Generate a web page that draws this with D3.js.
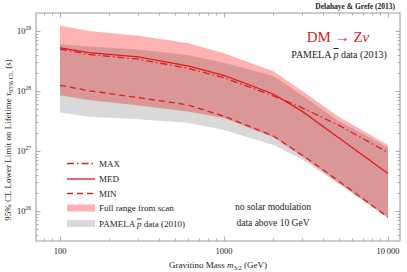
<!DOCTYPE html>
<html>
<head>
<meta charset="utf-8">
<script src="https://cdn.jsdelivr.net/npm/d3@7"></script>
<style>
  body { margin: 0; background: #fff; }
  text { font-family: "Liberation Serif", "DejaVu Serif", serif; fill: #222; }
</style>
</head>
<body>
<div id="chart"></div>
<script>
// gravitino masses (GeV) where the curves are sampled
const masses = [100, 150, 300, 600, 1000, 2000, 3000, 5000, 10000];

// log10 of lifetime limit (s)
const maxLog = [28.70, 28.61, 28.53, 28.38, 28.22, 27.92, 27.72, 27.43, 26.975];
const medLog = [28.72, 28.64, 28.57, 28.42, 28.26, 27.95, 27.66, 27.22, 26.625];
const minLog = [28.095, 28.005, 27.89, 27.77, 27.58, 27.25, 26.93, 26.50, 25.90];

// full range from scan (band)
const scanTopLog = [29.09, 29.00, 28.92, 28.80, 28.63, 28.33, 28.00, 27.57, 27.10];
const scanBotLog = [27.93, 27.85, 27.76, 27.66, 27.55, 27.23, 26.91, 26.47, 25.88];

// PAMELA pbar data (2010) band
const pamTopLog = [28.78, 28.74, 28.69, 28.60, 28.47, 28.25, 27.93, 27.50, 27.06];
const pamBotLog = [27.64, 27.57, 27.53, 27.47, 27.35, 27.10, 26.86, 26.45, 25.90];

const xTickValues = [100, 1000, 10000];
const xTickLabels = ["100", "1000", "10\u2009000"];
const yTickExps = [26, 27, 28, 29];

const legendItems = ["MAX", "MED", "MIN", "Full range from scan", "PAMELA p data (2010)"];

const W = 407, H = 272;
const frame = {left: 36, right: 400, top: 13, bottom: 241};
const red = "#e41a1c";

const svg = d3.select("#chart").append("svg")
  .attr("width", W).attr("height", H);

const x = d3.scaleLog()
  .domain([Math.pow(10, 2 - 24 / 164), Math.pow(10, 4 + 12 / 164)])
  .range([frame.left, frame.right]);
const y = d3.scaleLog()
  .domain([Math.pow(10, 25.5), Math.pow(10, 29.3)])
  .range([frame.bottom, frame.top]);

const clip = svg.append("clipPath").attr("id", "plotClip")
  .append("rect")
  .attr("x", frame.left).attr("y", frame.top)
  .attr("width", frame.right - frame.left).attr("height", frame.bottom - frame.top);

const plot = svg.append("g").attr("clip-path", "url(#plotClip)");

const band = (top, bot) => d3.area()
  .x((d, i) => x(masses[i]))
  .y0((d, i) => y(Math.pow(10, bot[i])))
  .y1((d, i) => y(Math.pow(10, top[i])))(masses);

const line = vals => d3.line()
  .x((d, i) => x(masses[i]))
  .y((d, i) => y(Math.pow(10, vals[i])))(masses);

// bands
plot.append("path").attr("d", band(scanTopLog, scanBotLog))
  .attr("fill", "#ff0000").attr("fill-opacity", 0.3);
plot.append("path").attr("d", band(pamTopLog, pamBotLog))
  .attr("fill", "#000").attr("fill-opacity", 0.15);

// lines
const styles = {
  max: "7,3,1.5,3",
  med: null,
  min: "6,4"
};
plot.append("path").attr("d", line(maxLog))
  .attr("fill", "none").attr("stroke", red).attr("stroke-width", 1.3)
  .attr("stroke-dasharray", styles.max);
plot.append("path").attr("d", line(medLog))
  .attr("fill", "none").attr("stroke", red).attr("stroke-width", 1.3);
plot.append("path").attr("d", line(minLog))
  .attr("fill", "none").attr("stroke", red).attr("stroke-width", 1.3)
  .attr("stroke-dasharray", styles.min);

// frame
svg.append("rect")
  .attr("x", frame.left).attr("y", frame.top)
  .attr("width", frame.right - frame.left).attr("height", frame.bottom - frame.top)
  .attr("fill", "none").attr("stroke", "#999").attr("stroke-width", 1);

// ticks
const axG = svg.append("g").attr("stroke", "#999").attr("stroke-width", 0.8);
const xMinor = [];
[10, 100, 1000, 10000].forEach(dec => {
  for (let k = 1; k < 10; k++) {
    const v = dec * k;
    if (v >= x.domain()[0] && v <= x.domain()[1]) xMinor.push(v);
  }
});
xMinor.forEach(v => {
  const major = xTickValues.includes(v);
  const len = major ? 4.5 : 2.5;
  const px = Math.round(x(v)) + 0.5;
  axG.append("line").attr("x1", px).attr("x2", px)
    .attr("y1", frame.bottom).attr("y2", frame.bottom - len);
  axG.append("line").attr("x1", px).attr("x2", px)
    .attr("y1", frame.top).attr("y2", frame.top + len);
});
const yMinor = [];
for (let e = 25; e <= 29; e++) {
  for (let k = 1; k < 10; k++) {
    const v = k * Math.pow(10, e);
    if (v >= y.domain()[0] && v <= y.domain()[1]) yMinor.push({v, major: k === 1});
  }
}
yMinor.forEach(t => {
  const len = t.major ? 4.5 : 2.5;
  const py = Math.round(y(t.v)) + 0.5;
  axG.append("line").attr("y1", py).attr("y2", py)
    .attr("x1", frame.left).attr("x2", frame.left + len);
  axG.append("line").attr("y1", py).attr("y2", py)
    .attr("x1", frame.right).attr("x2", frame.right - len);
});

// tick labels
xTickValues.forEach((v, i) => {
  svg.append("text").attr("x", x(v)).attr("y", 254)
    .attr("text-anchor", "middle").attr("font-size", 8.5)
    .text(xTickLabels[i]);
});
yTickExps.forEach(e => {
  const t = svg.append("text").attr("x", 31).attr("y", y(Math.pow(10, e)) + 3)
    .attr("text-anchor", "end").attr("font-size", 8.5);
  t.append("tspan").text("10");
  t.append("tspan").attr("dy", -4).attr("font-size", 5.5).text(e);
});

// axis titles
const xt = svg.append("text").attr("x", 218).attr("y", 268)
  .attr("text-anchor", "middle").attr("font-size", 9);
xt.append("tspan").text("Gravitino Mass ");
xt.append("tspan").attr("font-style", "italic").text("m");
xt.append("tspan").attr("dy", 2).attr("font-size", 6.5).text("3/2");
xt.append("tspan").attr("dy", -2).text(" (GeV)");

const yt = svg.append("text")
  .attr("transform", "translate(11,140) rotate(-90)")
  .attr("text-anchor", "middle").attr("font-size", 9);
yt.append("tspan").text("95% CL Lower Limit on Lifetime ");
yt.append("tspan").attr("font-style", "italic").text("\u03c4");
yt.append("tspan").attr("dy", 2).attr("font-size", 6.5).text("95% CL");
yt.append("tspan").attr("dy", -2).text(" (s)");

// annotations
svg.append("text").attr("x", 395).attr("y", 9)
  .attr("text-anchor", "end").attr("font-size", 7.5).attr("font-weight", "bold")
  .text("Delahaye & Grefe (2013)");
const dm = svg.append("text").attr("x", 338).attr("y", 42)
  .attr("text-anchor", "middle").attr("font-size", 15);
dm.append("tspan").attr("fill", red).text("DM \u2192 Z");
dm.append("tspan").attr("fill", red).attr("font-style", "italic").text("\u03bd");
const pam13 = svg.append("text").attr("x", 339).attr("y", 58)
  .attr("text-anchor", "middle").attr("font-size", 10);
pam13.append("tspan").text("PAMELA ");
pam13.append("tspan").attr("font-style", "italic").attr("text-decoration", "overline").text("p");
pam13.append("tspan").text(" data (2013)");

svg.append("text").attr("x", 273).attr("y", 210)
  .attr("text-anchor", "middle").attr("font-size", 9.5).text("no solar modulation");
svg.append("text").attr("x", 273).attr("y", 226)
  .attr("text-anchor", "middle").attr("font-size", 9.5).text("data above 10 GeV");

// legend
const legY = [163.5, 179, 193.5, 208, 223.5];
const leg = svg.append("g");
[styles.max, styles.med, styles.min].forEach((dash, i) => {
  leg.append("line").attr("x1", 67).attr("x2", 95)
    .attr("y1", legY[i]).attr("y2", legY[i])
    .attr("stroke", red).attr("stroke-width", 1.3)
    .attr("stroke-dasharray", dash);
});
leg.append("rect").attr("x", 67).attr("y", legY[3] - 3.5).attr("width", 28).attr("height", 7)
  .attr("fill", "#ff0000").attr("fill-opacity", 0.3);
leg.append("rect").attr("x", 67).attr("y", legY[4] - 3.5).attr("width", 28).attr("height", 7)
  .attr("fill", "#000").attr("fill-opacity", 0.15);
legendItems.forEach((label, i) => {
  const t = leg.append("text").attr("x", 99).attr("y", legY[i] + 3)
    .attr("font-size", 9);
  if (i === 4) {
    t.append("tspan").text("PAMELA ");
    t.append("tspan").attr("font-style", "italic").attr("text-decoration", "overline").text("p");
    t.append("tspan").text(" data (2010)");
  } else {
    t.text(label);
  }
});
</script>
</body>
</html>
